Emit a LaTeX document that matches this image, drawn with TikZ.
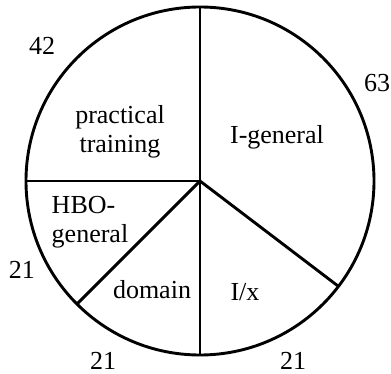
\documentclass[tikz,border=0pt]{standalone}
\usepackage{fontspec}
\setmainfont{Liberation Serif}
\usetikzlibrary{positioning,calc}
\tikzset{
  rim/.style={draw=black,line width=2.9pt},
  spoke/.style={draw=black,line width=2.9pt},
  sector/.style={align=center,font=\fontsize{26}{29}\selectfont,inner sep=0pt},
  count/.style={font=\fontsize{26}{29}\selectfont,inner sep=0pt}
}
\begin{document}
\begin{tikzpicture}[x=1pt,y=-1pt]
      \useasboundingbox (0,0) rectangle (391,374);
      \coordinate (c) at (200,181);
      \draw[rim] (c) circle[radius=174];
      \coordinate (top) at (200,7);
      \coordinate (bot) at (200,355);
      \coordinate (lft) at (26,181);
      \coordinate (ll) at (77,304);
      \coordinate (lr) at (338,286);
      \draw[spoke] (c)--(top);
      \draw[spoke] (c)--(bot);
      \draw[spoke] (c)--(lft);
      \draw[spoke] (c)--(ll);
      \draw[spoke] (c)--(lr);
      % sector names
      \node[sector] (pt) at (120,132) {practical\\training};
      \node[sector] (ig) at (277,137) {I-general};
      \node[sector,align=left] (hbo) at (90,222) {HBO-\\general};
      \node[sector] (dom) at (152,290) {domain};
      \node[sector] (ix) at (245,292) {I/x};
      % counts
      \node[count] (n42) at (42,46) {42};
      \node[count] (n63) at (377,83) {63};
      \node[count] (n21a) at (22,270) {21};
      \node[count] (n21b) at (103,361) {21};
      \node[count] (n21c) at (293,361) {21};
    \end{tikzpicture}
\end{document}
